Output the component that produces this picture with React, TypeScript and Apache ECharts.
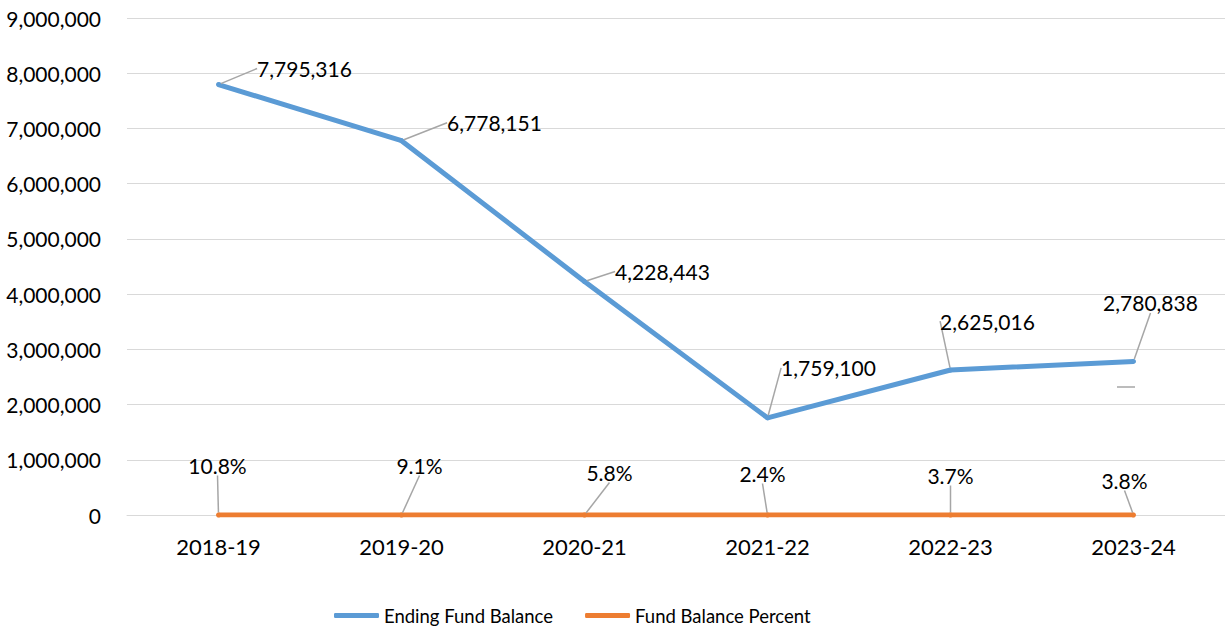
import React, { useEffect, useRef } from "react";
import * as echarts from "echarts";

const categories = ["2018-19", "2019-20", "2020-21", "2021-22", "2022-23", "2023-24"];
const endingFundBalance = [7795316, 6778151, 4228443, 1759100, 2625016, 2780838];
const fundBalancePercent = [0.108, 0.091, 0.058, 0.024, 0.037, 0.038];
const yTicks = { min: 0, max: 9000000, interval: 1000000 };

// label offsets (dx, dy) relative to default 'top' placement
const balanceLabelOffsets = [[86, 2], [93, 0], [78, 8], [61, -32], [37, -31], [17, -41]];
const percentLabelOffsets = [[-1, -32], [18, -32], [25, -25], [-5, -24], [0, -22], [-9, -17]];

const FONT = "Lato, 'Open Sans', sans-serif";

export default function App() {
  const ref = useRef<HTMLDivElement>(null);
  useEffect(() => {
    document.body.style.margin = "0";
    const chart = echarts.init(ref.current!, null, { renderer: "svg" });
    const fmt = (v: number) => v.toLocaleString("en-US");
    chart.setOption({
      animation: false,
      textStyle: { fontFamily: FONT },
      grid: { left: 127, right: 0, top: 18, bottom: 114, containLabel: false },
      legend: {
        top: 601,
        left: 329,
        icon: "roundRect",
        itemWidth: 45,
        itemHeight: 5,
        itemGap: 32,
        textStyle: { fontSize: 18.5, color: "#000", fontFamily: FONT },
        data: ["Ending Fund Balance", "Fund Balance Percent"],
      },
      xAxis: {
        type: "category",
        data: categories,
        boundaryGap: true,
        axisLine: { show: true, lineStyle: { color: "#D9D9D9", width: 1 } },
        axisTick: { show: false },
        axisLabel: { margin: 20, fontSize: 22, color: "#000", fontFamily: FONT },
      },
      yAxis: {
        type: "value",
        min: yTicks.min,
        max: yTicks.max,
        interval: yTicks.interval,
        axisLine: { show: false },
        axisTick: { show: false },
        splitLine: { lineStyle: { color: "#D9D9D9", width: 1 } },
        axisLabel: { margin: 26, fontSize: 21, color: "#000", fontFamily: FONT, formatter: fmt },
      },
      series: [
        {
          name: "Ending Fund Balance",
          type: "line",
          data: endingFundBalance,
          symbol: "circle",
          symbolSize: 5,
          lineStyle: { color: "#5B9BD5", width: 5 },
          itemStyle: { color: "#5B9BD5" },
          label: {
            show: true,
            position: "top",
            fontSize: 21,
            color: "#000",
            fontFamily: FONT,
            formatter: (p: any) => fmt(p.value),
          },
          labelLine: { show: true, lineStyle: { color: "#A6A6A6", width: 1.5 } },
          labelLayout: (p: any) => ({ dx: balanceLabelOffsets[p.dataIndex][0], dy: balanceLabelOffsets[p.dataIndex][1] }),
        },
        {
          name: "Fund Balance Percent",
          type: "line",
          data: fundBalancePercent,
          symbol: "circle",
          symbolSize: 5,
          lineStyle: { color: "#ED7D31", width: 5 },
          itemStyle: { color: "#ED7D31" },
          label: {
            show: true,
            position: "top",
            fontSize: 21,
            color: "#000",
            fontFamily: FONT,
            formatter: (p: any) => (p.value * 100).toFixed(1) + "%",
          },
          labelLine: { show: true, lineStyle: { color: "#A6A6A6", width: 1.5 } },
          labelLayout: (p: any) => ({ dx: percentLabelOffsets[p.dataIndex][0], dy: percentLabelOffsets[p.dataIndex][1] }),
        },
      ],
      graphic: [
        {
          type: "line",
          shape: { x1: 1117, y1: 387, x2: 1135, y2: 387 },
          style: { stroke: "#A6A6A6", lineWidth: 1.5 },
        },
      ],
    });
    return () => chart.dispose();
  }, []);
  return <div ref={ref} style={{ width: 1225, height: 629 }} />;
}
